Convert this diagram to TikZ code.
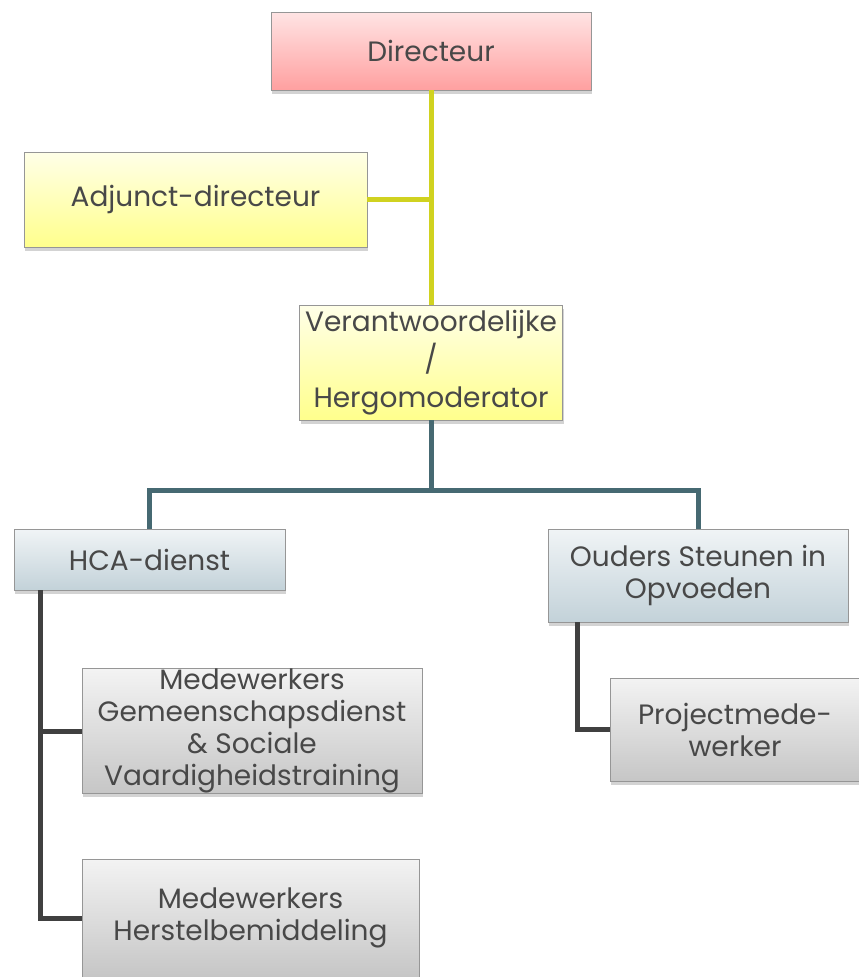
\documentclass[tikz,border=0pt]{standalone}
\usepackage{fontspec}
\setmainfont{Poppins}
\usetikzlibrary{shadows}
\definecolor{txt}{RGB}{72,72,72}
\definecolor{yline}{RGB}{208,210,32}
\definecolor{tline}{RGB}{70,105,114}
\definecolor{gline}{RGB}{64,64,64}
\definecolor{bordc}{RGB}{150,150,150}
\tikzset{
  box/.style={rectangle, draw=bordc, line width=0.8pt, inner sep=0pt, align=center,
    text=txt, font=\fontsize{28}{32}\selectfont,
    drop shadow={shadow xshift=1pt, shadow yshift=-4pt, opacity=0.35}},
  pinkbox/.style={box, top color={rgb,255:red,255;green,228;blue,228}, bottom color={rgb,255:red,255;green,160;blue,160}},
  yelbox/.style={box, top color={rgb,255:red,255;green,255;blue,232}, bottom color={rgb,255:red,255;green,255;blue,140}},
  bluebox/.style={box, top color={rgb,255:red,240;green,244;blue,246}, bottom color={rgb,255:red,195;green,210;blue,217}},
  graybox/.style={box, top color={rgb,255:red,243;green,243;blue,243}, bottom color={rgb,255:red,198;green,198;blue,198}},
  yconn/.style={draw=yline, line width=5pt},
  tconn/.style={draw=tline, line width=5pt},
  gconn/.style={draw=gline, line width=5pt},
}
\begin{document}
\begin{tikzpicture}[x=1pt,y=-1pt]
\useasboundingbox (0,0) rectangle (859,977);
\coordinate (dirpos) at (431,51);
\coordinate (verpos) at (431,362.5);
\coordinate (tj) at (431,490);
% boxes
\node[pinkbox, minimum width=320pt, minimum height=78pt] (dir) at (dirpos) {Directeur};
\node[yelbox, minimum width=343pt, minimum height=95pt] (adj) at (195.5,199.5) {Adjunct-directeur};
\node[yelbox, minimum width=263pt, minimum height=115pt, font=\fontsize{28}{38}\selectfont] (ver) at (verpos) {Verantwoordelijke\\/\\Hergomoderator};
\node[bluebox, minimum width=271pt, minimum height=61pt] (hca) at (149.5,559.5) {HCA-dienst};
\node[bluebox, minimum width=300pt, minimum height=93pt] (oud) at (698,575.5) {Ouders Steunen in\\Opvoeden};
\node[graybox, minimum width=340pt, minimum height=124pt] (med1) at (252,731) {Medewerkers\\Gemeenschapsdienst\\\& Sociale\\Vaardigheidstraining};
\node[graybox, minimum width=337pt, minimum height=118pt] (med2) at (250.5,918) {Medewerkers\\Herstelbemiddeling};
\node[graybox, minimum width=250pt, minimum height=103pt] (proj) at (735,729.5) {Projectmede-\\werker};
% connector anchor points
\coordinate (ht) at ([xshift=27pt]hca.south west);
\coordinate (ot) at ([xshift=30pt]oud.south west);
\path[yconn] (dir.south) -- (ver.north);
\path[yconn] (adj.east) -- (adj.east -| dir.south);
\path[tconn] (ver.south) -- ([yshift=-2.5pt]ver.south |- tj);
\path[tconn] (hca.north) -- (hca.north |- tj) -- (oud.north |- tj) -- (oud.north);
\path[gconn] (ht) |- (med2.west);
\path[gconn] (ht |- med1.west) -- (med1.west);
\path[gconn] (ot) |- (proj.west);
\end{tikzpicture}
\end{document}
